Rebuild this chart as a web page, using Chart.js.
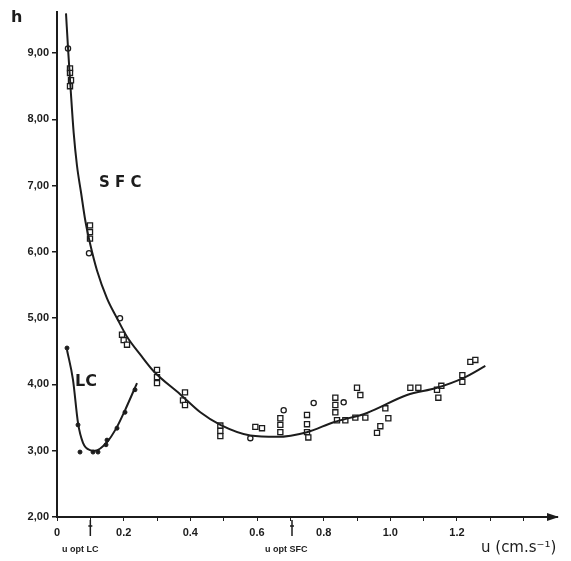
<!DOCTYPE html>
<html>
<head>
<meta charset="utf-8">
<script src="https://cdn.jsdelivr.net/npm/chart.js@4/dist/chart.umd.min.js"></script>
<style>
html,body{margin:0;padding:0;background:#fff;}
#wrap{position:relative;width:571px;height:561px;}
</style>
</head>
<body>
<div id="wrap"><canvas id="c" width="571" height="561"></canvas></div>
<script>
// ---- data ----
const sfcCurveU = [0.027,0.034,0.041,0.05,0.06,0.072,0.085,0.099,0.12,0.15,0.18,0.21,0.25,0.29,0.37,0.43,0.49,0.58,0.66,0.75,0.83,0.93,1.05,1.14,1.22,1.285];
const sfcCurveH = [9.6,9.0,8.45,7.8,7.3,6.9,6.47,6.13,5.72,5.3,5.0,4.72,4.45,4.2,3.85,3.58,3.39,3.23,3.21,3.28,3.43,3.57,3.84,3.95,4.1,4.28];

const lcCurveU = [0.03,0.048,0.063,0.078,0.099,0.114,0.15,0.18,0.204,0.24];
const lcCurveH = [4.52,4.07,3.42,3.12,3.01,3.0,3.13,3.36,3.61,4.02];

const sfcSquareU = [0.039,0.039,0.042,0.039,0.099,0.099,0.099,0.195,0.2,0.21,0.3,0.3,0.3,0.384,0.378,0.384,0.49,0.49,0.49,0.595,0.615,0.67,0.67,0.67,0.75,0.75,0.75,0.754,0.835,0.835,0.835,0.84,0.865,0.895,0.9,0.91,0.925,0.985,0.994,0.96,0.97,1.06,1.084,1.14,1.144,1.153,1.216,1.216,1.24,1.255];
const sfcSquareH = [8.77,8.7,8.59,8.5,6.4,6.3,6.2,4.75,4.67,4.6,4.22,4.11,4.02,3.88,3.76,3.69,3.38,3.3,3.22,3.36,3.34,3.49,3.39,3.28,3.54,3.4,3.28,3.2,3.8,3.69,3.58,3.46,3.46,3.5,3.95,3.84,3.5,3.64,3.49,3.27,3.37,3.95,3.95,3.92,3.8,3.98,4.04,4.14,4.34,4.37];

const sfcCircleU = [0.033,0.096,0.189,0.58,0.68,0.77,0.86];
const sfcCircleH = [9.07,5.98,5.0,3.19,3.61,3.72,3.73];

const lcPointU = [0.03,0.063,0.069,0.108,0.123,0.147,0.15,0.18,0.204,0.234];
const lcPointH = [4.55,3.39,2.98,2.98,2.98,3.09,3.16,3.34,3.58,3.92];

const yTickValues = [2,3,4,5,6,7,8,9];
const xTickValues = [0,0.1,0.2,0.3,0.4,0.5,0.6,0.7,0.8,0.9,1.0,1.1,1.2,1.3,1.4];
const xTickLabels = ['0','','0.2','','0.4','','0.6','','0.8','','1.0','','1.2','',''];
const uOptValues = [0.1,0.705];
const uOptLabels = ['u opt LC','u opt SFC'];

const pts = (u,h)=>u.map((x,i)=>({x:x,y:h[i]}));
const INK = '#1c1c1c';

const annot = {
  id:'annot',
  afterDraw(chart){
    const ctx = chart.ctx, xs = chart.scales.x, ys = chart.scales.y;
    const ay = ys.getPixelForValue(2);
    const ax = xs.getPixelForValue(1.5);
    ctx.save();
    ctx.fillStyle = INK; ctx.strokeStyle = INK;
    // arrow head on x axis
    ctx.beginPath();
    ctx.moveTo(ax+2, ay);
    ctx.lineTo(ax-10, ay-4);
    ctx.lineTo(ax-10, ay+4);
    ctx.closePath(); ctx.fill();
    // u opt markers
    ctx.lineWidth = 1.5;
    uOptValues.forEach((v,i)=>{
      const px = xs.getPixelForValue(v);
      ctx.beginPath(); ctx.moveTo(px, ay+3); ctx.lineTo(px, ay+19); ctx.stroke();
      ctx.beginPath(); ctx.moveTo(px-2, ay+9); ctx.lineTo(px+2, ay+9); ctx.stroke();
    });
    ctx.font = 'bold 9px "Liberation Sans"';
    ctx.textBaseline = 'middle';
    ctx.textAlign = 'left';
    ctx.fillText(uOptLabels[0], 62, 550);
    ctx.fillText(uOptLabels[1], 265, 550);
    // axis titles
    ctx.font = 'bold 16px "DejaVu Sans"';
    ctx.fillText('h', 11, 18);
    ctx.font = '15px "DejaVu Sans"';
    ctx.fillText('u (cm.s\u207B\u00B9)', 481, 548);
    // curve labels
    ctx.font = 'bold 15px "DejaVu Sans"';
    ctx.fillText('S F C', 99, 183);
    ctx.font = 'bold 16px "DejaVu Sans"';
    ctx.fillText('LC', 75, 382);
    ctx.restore();
  }
};

new Chart(document.getElementById('c'), {
  type:'scatter',
  data:{
    datasets:[
      {label:'SFC', data:pts(sfcCurveU,sfcCurveH), showLine:true, borderColor:INK, borderWidth:2, pointRadius:0, cubicInterpolationMode:'monotone'},
      {label:'LC', data:pts(lcCurveU,lcCurveH), showLine:true, borderColor:INK, borderWidth:2, pointRadius:0, cubicInterpolationMode:'monotone'},
      {label:'SFC sq', data:pts(sfcSquareU,sfcSquareH), pointStyle:'rect', pointRadius:3.6, borderColor:INK, backgroundColor:'#fff', borderWidth:1.3},
      {label:'SFC ci', data:pts(sfcCircleU,sfcCircleH), pointStyle:'circle', pointRadius:2.6, borderColor:INK, backgroundColor:'#fff', borderWidth:1.3},
      {label:'LC pts', data:pts(lcPointU,lcPointH), pointStyle:'circle', pointRadius:2, borderColor:INK, backgroundColor:INK, borderWidth:1}
    ]
  },
  options:{
    responsive:false, animation:false,
    layout:{padding:{top:12,right:14,left:0,bottom:0}},
    plugins:{legend:{display:false}, tooltip:{enabled:false}},
    scales:{
      x:{
        type:'linear', min:0, max:1.5,
        afterBuildTicks(s){ s.ticks = xTickValues.map(v=>({value:v})); },
        afterFit(s){ s.height = 44; },
        grid:{drawOnChartArea:false, drawTicks:true, tickLength:4, color:INK, lineWidth:1},
        border:{display:true, color:INK, width:2},
        ticks:{color:INK, padding:5, maxRotation:0, autoSkip:false,
          font:{family:'Liberation Sans', size:11, weight:'bold'},
          callback(v,i){ return xTickLabels[i]; }}
      },
      y:{
        type:'linear', min:2, max:9.62,
        afterBuildTicks(s){ s.ticks = yTickValues.map(v=>({value:v})); },
        afterFit(s){ s.width = 57; },
        grid:{drawOnChartArea:false, drawTicks:true, tickLength:5, color:INK, lineWidth:1.5},
        border:{display:true, color:INK, width:2},
        ticks:{color:INK, padding:3,
          font:{family:'Liberation Sans', size:11, weight:'bold'},
          callback(v){ return v.toFixed(2).replace('.',','); }}
      }
    }
  },
  plugins:[annot]
});
</script>
</body>
</html>
